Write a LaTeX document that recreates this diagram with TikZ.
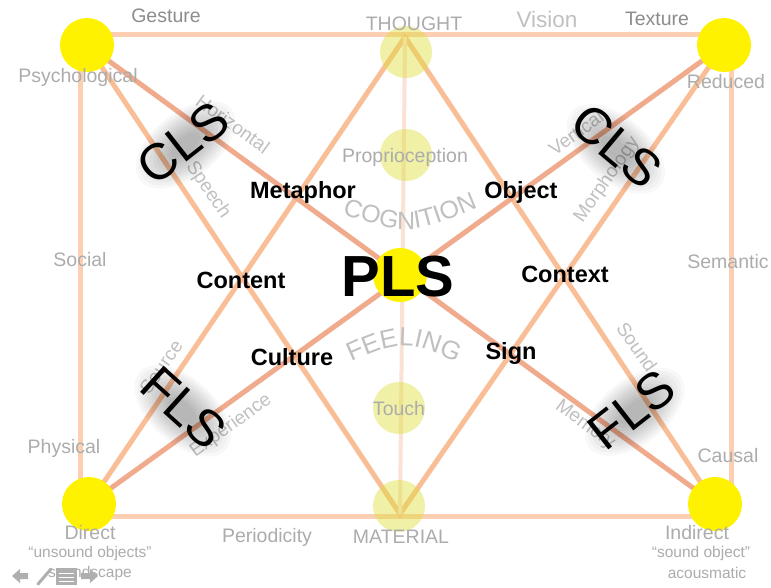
\documentclass[tikz,border=0pt]{standalone}
\usepackage{fontspec}
\setmainfont{Liberation Sans}
\usetikzlibrary{decorations.text}
\definecolor{rectc}{RGB}{252,207,178}
\definecolor{diagc}{RGB}{240,170,140}
\definecolor{vc}{RGB}{250,190,150}
\definecolor{midc}{RGB}{250,226,212}
\definecolor{dotc}{RGB}{255,242,0}
\definecolor{fadec}{RGB}{222,222,60}
\definecolor{gA}{RGB}{140,140,140}
\definecolor{gB}{RGB}{172,172,172}
\definecolor{gC}{RGB}{192,192,192}
\definecolor{navc}{RGB}{175,175,175}
\tikzset{
  rectline/.style={draw=rectc, line width=5pt},
  vline/.style={draw=vc, line width=5pt},
  diagline/.style={draw=diagc, line width=5pt},
  midline/.style={draw=midc, line width=4pt},
  bigdot/.style={circle, fill=dotc, minimum size=54pt, inner sep=0pt},
  fadedot/.style={circle, fill=fadec, fill opacity=0.45, minimum size=52pt, inner sep=0pt},
  lblA/.style={text=gA, font=\fontsize{19.5}{21}\selectfont, inner sep=0pt},
  lblB/.style={text=gB, font=\fontsize{19.5}{21}\selectfont, inner sep=0pt},
  lblC/.style={text=gC, font=\fontsize{19}{21}\selectfont, inner sep=0pt},
  vislbl/.style={text=gC, font=\fontsize{22.5}{24}\selectfont, inner sep=0pt},
  smalllbl/.style={text=gB, font=\fontsize{15.5}{17}\selectfont, inner sep=0pt},
  boldlbl/.style={text=black, font=\fontsize{23.5}{25}\bfseries\selectfont, inner sep=0pt},
  biglbl/.style={text=black, font=\fontsize{51}{53}\selectfont, inner sep=0pt},
  halo/.style={fill=black, fill opacity=0.028},
}
\newcommand{\shadowedlabel}[4]{%
  \foreach \kk in {1,...,11}{
    \fill[halo, rotate around={#2:(#1)}] (#1) ++(1,3) ellipse ({14+4*\kk} and {6+2.4*\kk});
  }
  \node[biglbl, rotate=#2] (#4) at (#1) {#3};
}
\begin{document}
\begin{tikzpicture}[x=1pt,y=-1pt]
\useasboundingbox (0,0) rectangle (771,587);
\fill[white] (0,0) rectangle (771,587);

% key points
\coordinate (TL) at (87,45);
\coordinate (TR) at (724,45);
\coordinate (BL) at (89,504);
\coordinate (BR) at (715,504);
\coordinate (TH) at (405,37);
\coordinate (MA) at (400,514);
\coordinate (CE) at (400,275);
\coordinate (r1) at (80,34);
\coordinate (r2) at (731,34);
\coordinate (r3) at (731,516);
\coordinate (r4) at (80,516);

% frame
\draw[rectline] (r1) -- (r2) -- (r3) -- (r4) -- cycle;
% triangles
\draw[vline] (BL) -- (TH) -- (BR);
\draw[vline] (TL) -- (MA) -- (TR);
% diagonals
\draw[diagline] (TL) -- (BR);
\draw[diagline] (TR) -- (BL);
% middle vertical
\draw[midline] (TH) -- (MA);

% faint circles
\node[fadedot] (thoughtdot) at (406,52) {};
\node[fadedot] (propdot) at (406,155) {};
\node[fadedot] (touchdot) at (399,408) {};
\node[fadedot] (matdot) at (399,506) {};

% main circles
\node[bigdot] (cTL) at (TL) {};
\node[bigdot] (cTR) at (TR) {};
\node[bigdot] (cBL) at (BL) {};
\node[bigdot] (cBR) at (BR) {};
\node[bigdot] (cCE) at (CE) {};

% corner/edge labels
\node[lblA] (gesture) at (166,16) {Gesture};
\node[lblB] (psych) at (78,77) {Psychological};
\node[lblB] (thought) at (414,24) {THOUGHT};
\node[vislbl] (vision) at (547,19) {Vision};
\node[lblA] (texture) at (657,19) {Texture};
\node[lblB] (reduced) at (726,82) {Reduced};
\node[lblB] (social) at (80,260) {Social};
\node[lblB] (semantic) at (728,262) {Semantic};
\node[lblB] (physical) at (64,448) {Physical};
\node[lblB] (causal) at (728,456) {Causal};
\node[lblB] (direct) at (90,533) {Direct};
\node[smalllbl] (unsound) at (90,553) {“unsound objects”};
\node[smalllbl] (soundscape) at (90,573) {soundscape};
\node[lblB] (periodicity) at (267,537) {Periodicity};
\node[lblB] (material) at (401,537) {MATERIAL};
\node[lblB] (indirect) at (697,533) {Indirect};
\node[smalllbl] (soundobj) at (701,553) {“sound object”};
\node[smalllbl] (acousmatic) at (707,573) {acousmatic};
\node[lblB] (propr) at (405,157) {Proprioception};
\node[lblB] (touch) at (399,409) {Touch};

% line labels
\node[lblC, rotate=-36] (horizontal) at (233,124) {Horizontal};
\node[lblC, rotate=-56] (speech) at (208,190) {Speech};
\node[lblC, rotate=36] (vertical) at (576,133) {Vertical};
\node[lblC, rotate=55] (morph) at (607,180) {Morphology};
\node[lblC, rotate=55] (source) at (161,367) {Source};
\node[lblC, rotate=36] (experience) at (231,426) {Experience};
\node[lblC, rotate=-55] (sound) at (637,347) {Sound};
\node[lblC, rotate=-36] (memory) at (585,425) {Memory};

% arched words
\path[decorate, decoration={text along path, text align=center, text color=gC,
  text={|\fontsize{25}{25}\selectfont|COGNITION}}]
  (336,212) .. controls (410,236) .. (484,205);
\path[decorate, decoration={text along path, text align=center, text color=gC,
  text={|\fontsize{26}{26}\selectfont|FEELING}}]
  (336,369) .. controls (403,338) .. (472,369);

% bold labels
\node[boldlbl] (metaphor) at (303,192) {Metaphor};
\node[boldlbl] (object) at (521,192) {Object};
\node[boldlbl] (content) at (241,280) {Content};
\node[boldlbl] (context) at (565,274) {Context};
\node[boldlbl] (culture) at (292,357) {Culture};
\node[boldlbl] (sign) at (511,353) {Sign};
\node[text=black, font=\fontsize{58}{60}\bfseries\selectfont, inner sep=0pt] (pls) at (398,277) {PLS};

% CLS / FLS with soft shadow
\coordinate (clsL) at (183,143);
\coordinate (clsR) at (617,146);
\coordinate (flsL) at (184,408);
\coordinate (flsR) at (632,410);
\shadowedlabel{clsL}{38}{CLS}{clsl}
\shadowedlabel{clsR}{-40}{CLS}{clsr}
\shadowedlabel{flsL}{-42}{FLS}{flsl}
\shadowedlabel{flsR}{38}{FLS}{flsr}

% navigation icons
\fill[navc] (12,576) -- (20,569) -- (20,573) -- (28,573) -- (28,579) -- (20,579) -- (20,583) -- cycle;
\draw[navc, line width=3pt, line cap=round] (38,584) -- (51,569);
\fill[navc] (56,568) rectangle (77,585);
\draw[white, line width=1pt] (59,573) -- (74,573) (59,577) -- (74,577) (59,581) -- (74,581);
\fill[navc] (98,576) -- (90,569) -- (90,573) -- (81,573) -- (81,579) -- (90,579) -- (90,583) -- cycle;
\end{tikzpicture}
\end{document}
